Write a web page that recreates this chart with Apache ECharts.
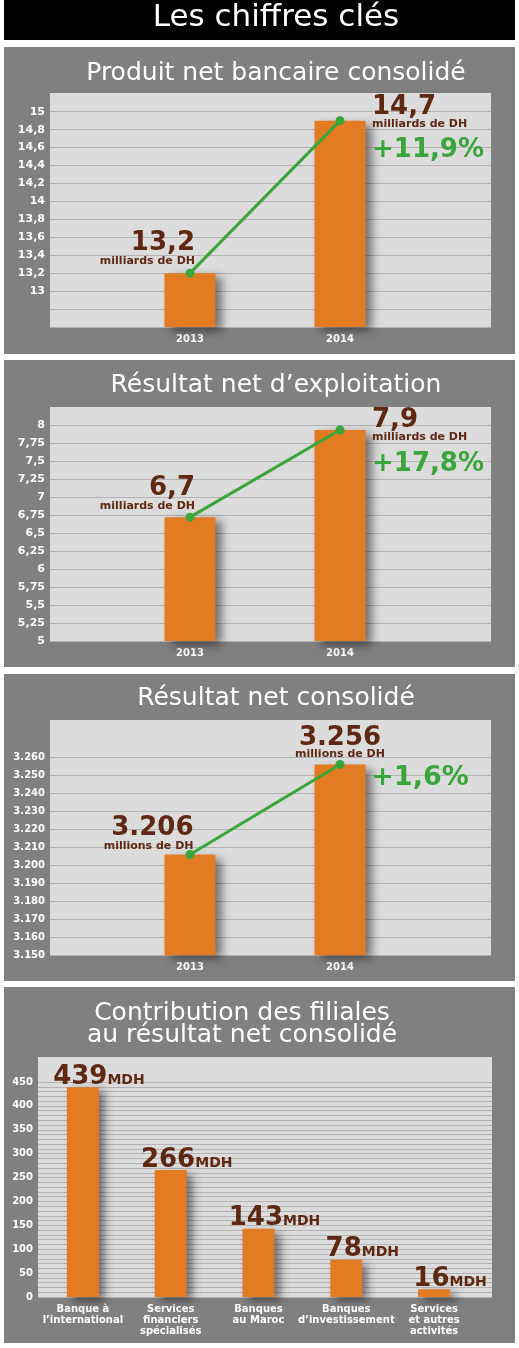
<!DOCTYPE html>
<html><head><meta charset="utf-8">
<script src="https://cdn.jsdelivr.net/npm/echarts@6/dist/echarts.min.js"></script>
<style>html,body{margin:0;padding:0;background:#fff}#c{width:519px;height:1348px}</style>
</head><body><div id="c"></div>
<script>
// ---------- data ----------
const pageTitle = 'Les chiffres clés';
const panelTitles = ['Produit net bancaire consolidé', 'Résultat net d’exploitation', 'Résultat net consolidé', 'Contribution des filiales\nau résultat net consolidé'];
const years = ['2013', '2014'];

const pnbValues = [13.2, 14.9];
const pnbLabels = ['13,2', '14,7'];
const pnbUnit = 'milliards de DH';
const pnbGrowth = '+11,9%';

const rneValues = [6.72, 7.93];
const rneLabels = ['6,7', '7,9'];
const rneUnit = 'milliards de DH';
const rneGrowth = '+17,8%';

const rncValues = [3206, 3256];
const rncLabels = ['3.206', '3.256'];
const rncUnit = 'millions de DH';
const rncGrowth = '+1,6%';

const filCategories = ['Banque à\nl’international', 'Services\nfinanciers\nspécialisés', 'Banques\nau Maroc', 'Banques\nd’investissement', 'Services\net autres\nactivités'];
const filValues = [439, 266, 143, 78, 16];
const filUnit = 'MDH';

// axis scales [min, max, interval, first labelled tick]
const pnbScale = [12.6, 15, 0.2, 13];
const rneScale = [5, 8, 0.25, 5];
const rncScale = [3150, 3260, 10, 3150];
const filScale = [0, 450, 50, 0];

// ---------- style ----------
const F = 'DejaVu Sans';
const BROWN = '#5e2813', GREEN = '#3aa53a', ORANGE = '#e27b22', GRIDC = '#b3b3b3', PANEL = '#808080', PLOT = '#dcdcdc';

const option = {animation: false, title: [], graphic: [], grid: [], xAxis: [], yAxis: [], series: []};

// page/panel backgrounds
[[4, 0, 511, 40, '#000'], [4, 47, 511, 307, PANEL], [4, 360, 511, 307, PANEL], [4, 674, 511, 307, PANEL], [4, 987, 511, 356, PANEL]]
  .forEach(r => option.graphic.push({type: 'rect', z: -100, silent: true, shape: {x: r[0], y: r[1], width: r[2], height: r[3]}, style: {fill: r[4]}}));

function addTitle(text, x, top, size, lh) {
  option.title.push({text: text, left: x, top: top, textAlign: 'center', padding: 0,
    textStyle: {fontFamily: F, fontWeight: 'normal', fontSize: size, lineHeight: lh, color: '#fff'}});
}
addTitle(pageTitle, 276, 2, 31, 32);
addTitle(panelTitles[0], 276, 59.5, 25, 28);
addTitle(panelTitles[1], 276, 371.5, 25, 28);
addTitle(panelTitles[2], 276, 684.7, 25, 28);
addTitle(panelTitles[3], 242, 1002, 25, 22);

function addPanel(p) {
  const gA = option.grid.length;
  option.grid.push({left: p.plotLeft, right: p.plotRight, top: p.plotTop, height: p.plotH, show: true, backgroundColor: PLOT, borderWidth: 0});
  option.xAxis.push({gridIndex: gA, type: 'value', show: false, min: 0, max: 1});
  option.yAxis.push({gridIndex: gA, type: 'value', show: false, min: 0, max: 1});
  const gB = gA + 1;
  option.grid.push({left: p.plotLeft, right: p.plotRight, top: p.lineTop, height: p.lineH});
  option.xAxis.push({gridIndex: gB, type: 'value', show: false, min: 0, max: 1});
  option.yAxis.push({gridIndex: gB, type: 'value', min: p.scale[0], max: p.scale[1], interval: p.scale[2],
    axisLine: {show: false}, axisTick: {show: false},
    splitLine: {show: true, lineStyle: {color: GRIDC, width: 1}},
    minorTick: {show: false, splitNumber: 5},
    minorSplitLine: {show: !!p.minor, lineStyle: {color: GRIDC, width: 1}},
    axisLabel: {margin: 5, color: '#fff', fontFamily: F, fontWeight: 'bold', fontSize: p.yFont, padding: [0, 0, 7, 0],
      formatter: v => (v < p.scale[3] - 1e-6 ? '' : p.fmt(v))}});
  const gC = gA + 2;
  option.grid.push({left: p.barLeft, right: p.barRight, top: p.lineTop, height: p.lineH});
  option.xAxis.push({gridIndex: gC, type: 'category', data: p.cats, axisLine: {show: false}, axisTick: {show: false},
    axisLabel: {interval: 0, margin: 7, color: '#fff', fontFamily: F, fontWeight: 'bold', fontSize: 10, lineHeight: 11}});
  option.yAxis.push({gridIndex: gC, type: 'value', show: false, min: p.scale[0], max: p.scale[1], interval: p.scale[2]});
  const bar = {type: 'bar', xAxisIndex: gC, yAxisIndex: gC, data: p.values, barWidth: p.barWidth,
    itemStyle: {color: ORANGE, shadowBlur: 9, shadowColor: 'rgba(0,0,0,0.5)', shadowOffsetX: 6, shadowOffsetY: 4}};
  if (p.barLabel) bar.label = p.barLabel;
  option.series.push(bar);
  if (p.lineLabels) {
    option.series.push({type: 'line', xAxisIndex: gC, yAxisIndex: gC, symbol: 'circle', symbolSize: 9,
      lineStyle: {color: GREEN, width: 3}, itemStyle: {color: GREEN},
      data: p.values.map((v, i) => ({value: v, label: p.lineLabels[i]}))});
  }
}

const bigS = {fontFamily: F, fontWeight: 'bold', fontSize: 26, color: BROWN};
const unitS = {fontFamily: F, fontWeight: 'bold', fontSize: 11, color: BROWN};
const pctS = {fontFamily: F, fontWeight: 'bold', fontSize: 26, color: GREEN};

function leftLabel(big, unit, pos) {
  return {show: true, position: pos, align: 'right', verticalAlign: 'bottom',
    formatter: '{big|' + big + '}\n{unit|' + unit + '}',
    rich: {big: Object.assign({}, bigS, {lineHeight: 22}), unit: Object.assign({}, unitS, {lineHeight: 14})}};
}
function rightLabel(big, unit, pct, pos, unitLh, pctLh) {
  return {show: true, position: pos, align: 'left', verticalAlign: 'top',
    formatter: '{big|' + big + '}\n{unit|' + unit + '}\n{pct|' + pct + '}',
    rich: {big: Object.assign({}, bigS, {lineHeight: 22}), unit: Object.assign({}, unitS, {lineHeight: unitLh}),
      pct: Object.assign({}, pctS, {lineHeight: pctLh})}};
}
const commaFmt = v => String(+v.toFixed(2)).replace('.', ',');

addPanel({plotLeft: 50, plotRight: 28, plotTop: 93, plotH: 234, lineTop: 111.7, lineH: 215.3, barLeft: 115, barRight: 104,
  scale: pnbScale, yFont: 11, fmt: commaFmt, cats: years, values: pnbValues, barWidth: 51,
  lineLabels: [leftLabel(pnbLabels[0], pnbUnit, [9.5, -0.8]), rightLabel(pnbLabels[1], pnbUnit, pnbGrowth, [36.5, -20.2], 12.4, 40)]});

addPanel({plotLeft: 50, plotRight: 28, plotTop: 407, plotH: 234, lineTop: 425, lineH: 216, barLeft: 115, barRight: 104,
  scale: rneScale, yFont: 11, fmt: commaFmt, cats: years, values: rneValues, barWidth: 51,
  lineLabels: [leftLabel(rneLabels[0], rneUnit, [9.5, 0.7]), rightLabel(rneLabels[1], rneUnit, rneGrowth, [36.5, -16.5], 12.4, 42)]});

addPanel({plotLeft: 50, plotRight: 28, plotTop: 720, plotH: 235.3, lineTop: 757.3, lineH: 198, barLeft: 115, barRight: 104,
  scale: rncScale, yFont: 10, fmt: v => (v / 1000).toFixed(3), cats: years, values: rncValues, barWidth: 51,
  lineLabels: [leftLabel(rncLabels[0], rncUnit, [8, 3]),
    {show: true, position: [4.5, -32.5], align: 'center', verticalAlign: 'top',
      formatter: '{big|' + rncLabels[1] + '}\n{unit|' + rncUnit + '}\n{pct|' + rncGrowth + '}',
      rich: {big: Object.assign({}, bigS, {lineHeight: 22}), unit: Object.assign({}, unitS, {lineHeight: 10}),
        pct: Object.assign({}, pctS, {fontSize: 27, lineHeight: 37, padding: [0, 0, 0, 160]})}}]});

addPanel({plotLeft: 38, plotRight: 27, plotTop: 1057, plotH: 240, lineTop: 1082, lineH: 215, barLeft: 39, barRight: 41,
  scale: filScale, yFont: 10, fmt: v => String(v), cats: filCategories, values: filValues, barWidth: 32, minor: true,
  barLabel: {show: true, position: 'top', distance: 0, offset: [16, 3],
    formatter: p => '{a|' + p.value + '}{b|' + filUnit + '}',
    rich: {a: {fontFamily: F, fontWeight: 'bold', fontSize: 26, color: BROWN, verticalAlign: 'bottom'},
      b: {fontFamily: F, fontWeight: 'bold', fontSize: 14, color: BROWN, verticalAlign: 'bottom', padding: [0, 0, 3, 0]}}}});

const chart = echarts.init(document.getElementById('c'), null, {renderer: 'canvas'});
chart.setOption(option);
</script></body></html>
